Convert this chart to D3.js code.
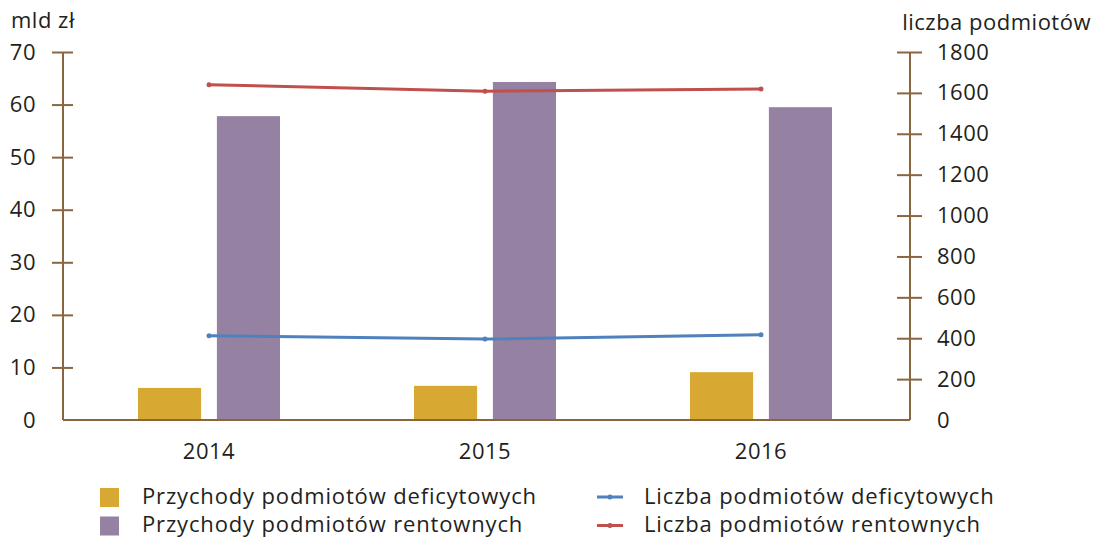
<!DOCTYPE html>
<html>
<head>
<meta charset="utf-8">
<script src="https://cdn.jsdelivr.net/npm/d3@7"></script>
<style>
  html, body { margin: 0; padding: 0; background: #fff; }
  svg { display: block; }
  text { font-family: "Open Sans", sans-serif; fill: #231f20; font-size: 22px; letter-spacing: 0.5px; }
  .legend text { letter-spacing: 0.85px; }
</style>
</head>
<body>
<script>
const categories = ["2014", "2015", "2016"];
const revenueDeficit = [6.1, 6.5, 9.1];      // mld zł
const revenueProfit = [57.8, 64.3, 59.5];    // mld zł
const countDeficit = [412, 396, 417];        // liczba podmiotów
const countProfit = [1640, 1608, 1619];      // liczba podmiotów
const leftTicks = [0, 10, 20, 30, 40, 50, 60, 70];
const rightTicks = [0, 200, 400, 600, 800, 1000, 1200, 1400, 1600, 1800];
const barSeries = ["Przychody podmiotów deficytowych", "Przychody podmiotów rentownych"];
const lineSeries = ["Liczba podmiotów deficytowych", "Liczba podmiotów rentownych"];

const W = 1103, H = 538;
const axisColor = "#8a6540";
const colYellow = "#d8a932", colPurple = "#9582a2";
const colBlue = "#4f81bd", colRed = "#c0504d";

const svg = d3.select("body").append("svg").attr("width", W).attr("height", H);

const pLeft = 63, pRight = 910, pTop = 52, pBottom = 420;

const x = d3.scaleBand().domain(categories).range([71, 899]).padding(0);
const xSub = d3.scaleBand().domain([0, 1]).range([-71, 71]).paddingInner(0.2).paddingOuter(0);
const yL = d3.scaleLinear().domain([0, 70]).range([pBottom, pTop]);
const yR = d3.scaleLinear().domain([0, 1800]).range([pBottom, pTop]);

// bars
const barData = [revenueDeficit, revenueProfit];
const barColors = [colYellow, colPurple];
barData.forEach((vals, si) => {
  svg.append("g").selectAll("rect").data(categories).join("rect")
    .attr("x", (c) => x(c) + x.bandwidth() / 2 + xSub(si))
    .attr("width", xSub.bandwidth())
    .attr("y", (c, i) => yL(vals[i]))
    .attr("height", (c, i) => pBottom - yL(vals[i]))
    .attr("fill", barColors[si]);
});

// axes
const gL = svg.append("g").attr("transform", `translate(${pLeft},0)`)
  .call(d3.axisLeft(yL).tickValues(leftTicks).tickSize(0).tickFormat(d3.format("d")));
gL.select(".domain").remove();
gL.selectAll(".tick").filter(d => d !== 0).append("line").attr("x1", -11).attr("x2", 10).attr("stroke", axisColor).attr("stroke-width", 2);
gL.selectAll(".tick text").attr("x", -27).attr("fill", "#231f20");
svg.append("line").attr("x1", pLeft).attr("x2", pLeft).attr("y1", pTop).attr("y2", pBottom).attr("stroke", axisColor).attr("stroke-width", 2);

const gR = svg.append("g").attr("transform", `translate(${pRight},0)`)
  .call(d3.axisRight(yR).tickValues(rightTicks).tickSize(0).tickFormat(d3.format("d")));
gR.select(".domain").remove();
gR.selectAll(".tick").filter(d => d !== 0).append("line").attr("x1", -13).attr("x2", 12).attr("stroke", axisColor).attr("stroke-width", 2);
gR.selectAll(".tick text").attr("x", 27).attr("fill", "#231f20");
svg.append("line").attr("x1", pRight).attr("x2", pRight).attr("y1", pTop).attr("y2", pBottom).attr("stroke", axisColor).attr("stroke-width", 2);
[gL, gR].forEach(g => g.attr("font-size", null).attr("font-family", null));

// x axis
svg.append("line").attr("x1", pLeft).attr("x2", pRight).attr("y1", pBottom).attr("y2", pBottom).attr("stroke", axisColor).attr("stroke-width", 2);
const gX = svg.append("g").attr("transform", `translate(0,${pBottom})`)
  .call(d3.axisBottom(x).tickSize(0).tickPadding(0));
gX.attr("font-size", null).attr("font-family", null);
gX.select(".domain").remove();
gX.selectAll(".tick text").attr("y", 23).attr("fill", "#231f20");

// lines
const lineData = [countDeficit, countProfit];
const lineColors = [colBlue, colRed];
const lineGen = d3.line().x((d, i) => x(categories[i]) + x.bandwidth() / 2).y(d => yR(d));
lineData.forEach((vals, si) => {
  svg.append("path").datum(vals).attr("d", lineGen).attr("fill", "none")
    .attr("stroke", lineColors[si]).attr("stroke-width", 3);
  svg.append("g").selectAll("circle").data(vals).join("circle")
    .attr("cx", (d, i) => x(categories[i]) + x.bandwidth() / 2)
    .attr("cy", d => yR(d)).attr("r", 2.5).attr("fill", lineColors[si]);
});

// axis titles
svg.append("text").attr("x", 11).attr("y", 28).text("mld zł");
svg.append("text").attr("x", 1091).attr("y", 30).attr("text-anchor", "end").text("liczba podmiotów");

// legend
const leg = svg.append("g").attr("class", "legend");
barSeries.forEach((name, i) => {
  const yy = 488 + i * 28.5;
  leg.append("rect").attr("x", 100).attr("y", yy).attr("width", 19).attr("height", 19).attr("fill", barColors[i]);
  leg.append("text").attr("x", 142).attr("y", yy + 15.5).text(name);
});
lineSeries.forEach((name, i) => {
  const yy = 497 + i * 28.5;
  leg.append("line").attr("x1", 597).attr("x2", 623).attr("y1", yy).attr("y2", yy).attr("stroke", lineColors[i]).attr("stroke-width", 3);
  leg.append("circle").attr("cx", 610).attr("cy", yy).attr("r", 2.5).attr("fill", lineColors[i]);
  leg.append("text").attr("x", 644).attr("y", yy + 6.5).text(name);
});
</script>
</body>
</html>
